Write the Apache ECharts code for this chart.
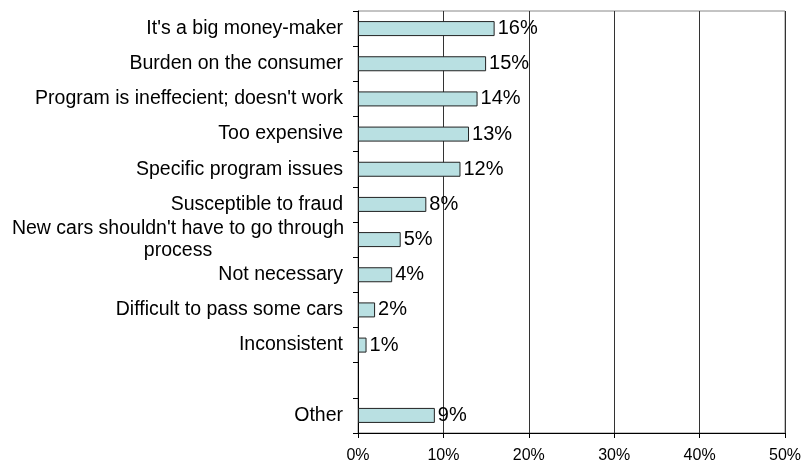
<!DOCTYPE html>
<html>
<head>
<meta charset="utf-8">
<script src="https://cdn.jsdelivr.net/npm/echarts@6/dist/echarts.min.js"></script>
<style>
html, body { margin: 0; padding: 0; background: #fff; }
#box { width: 804px; height: 466px; }
</style>
</head>
<body>
<div id="box"></div>
<script>
// reasons, top to bottom
var categories = [
	"It's a big money-maker",
	'Burden on the consumer',
	"Program is ineffecient; doesn't work",
	'Too expensive',
	'Specific program issues',
	'Susceptible to fraud',
	"New cars shouldn't have to go through\nprocess",
	'Not necessary',
	'Difficult to pass some cars',
	'Inconsistent',
	'',
	'Other'
];
var values = [16, 15, 14, 13, 12, 8, 5, 4, 2, 1, null, 9];
var xTicks = [0, 10, 20, 30, 40, 50];

var myChart = echarts.init(document.getElementById('box'));
var option = {
	animation: false,
	textStyle: { fontFamily: 'Liberation Sans, Arial, sans-serif' },
	grid: {
		left: 358,
		right: 18,
		top: 11,
		bottom: 33,
		show: true,
		borderColor: '#888',
		borderWidth: 1
	},
	xAxis: {
		type: 'value',
		min: xTicks[0],
		max: xTicks[xTicks.length - 1],
		interval: 10,
		axisLine: { show: true, lineStyle: { color: '#000', width: 1 } },
		axisTick: { show: true, length: 5, lineStyle: { color: '#000' } },
		splitLine: { show: true, lineStyle: { color: '#333', width: 1 } },
		axisLabel: {
			color: '#000',
			fontSize: 16,
			margin: 15,
			formatter: function (v) { return v + '%'; }
		}
	},
	yAxis: {
		type: 'category',
		inverse: true,
		data: categories,
		axisLine: { show: true, lineStyle: { color: '#000', width: 1 } },
		axisTick: { show: true, length: 5, inside: false, lineStyle: { color: '#000' } },
		axisLabel: {
			color: '#000',
			fontSize: 19.5,
			margin: 15,
			lineHeight: 22,
			formatter: function (v) {
				if (v.indexOf('\n') >= 0) {
					return v.split('\n').map(function (s) { return '{c|' + s + '}'; }).join('\n');
				}
				return v;
			},
			rich: {
				c: { width: 330, align: 'center', fontSize: 19.5, color: '#000', lineHeight: 22 }
			}
		}
	},
	series: [
		{
			type: 'bar',
			data: values,
			barWidth: 15,
			itemStyle: {
				color: '#B9E0E2',
				borderColor: '#222',
				borderWidth: 1
			},
			label: {
				show: true,
				position: 'right',
				distance: 3,
				color: '#000',
				fontSize: 20,
				formatter: function (p) { return p.value + '%'; }
			}
		}
	]
};
myChart.setOption(option);
</script>
</body>
</html>
